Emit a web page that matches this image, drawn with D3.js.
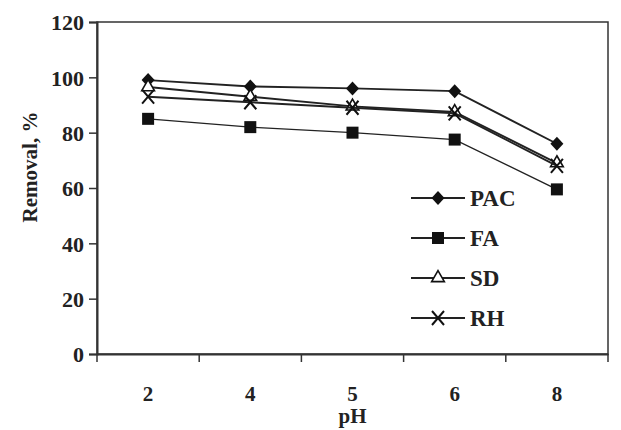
<!DOCTYPE html>
<html>
<head>
<meta charset="utf-8">
<script src="https://cdn.jsdelivr.net/npm/d3@7"></script>
<style>
  body { margin: 0; background: #fff; }
  text { font-family: "Liberation Serif", "DejaVu Serif", serif; font-weight: bold; fill: #222; }
</style>
</head>
<body>
<svg width="621" height="430"></svg>
<script>
// pH categories and removal (%) per adsorbent
var phLabels = ["2", "4", "5", "6", "8"];
var pacValues = [99, 96.7, 96, 95, 76];
var faValues = [85, 82, 80, 77.5, 59.5];
var sdValues = [96.5, 93, 89.5, 87.5, 69];
var rhValues = [93, 91, 89, 87, 68];
var yTicks = [0, 20, 40, 60, 80, 100, 120];

var series = [
    {name: "PAC", values: pacValues, marker: "diamond"},
    {name: "FA", values: faValues, marker: "square"},
    {name: "SD", values: sdValues, marker: "triangle"},
    {name: "RH", values: rhValues, marker: "cross"}
];

var svg = d3.select("svg"),
    plotLeft = 97, plotRight = 608, plotTop = 22, plotBottom = 354;

var x = d3.scaleBand().domain(phLabels).range([plotLeft, plotRight]);
var y = d3.scaleLinear().domain([0, 120]).range([plotBottom, plotTop]);

// plot frame
svg.append("rect")
    .attr("x", plotLeft).attr("y", plotTop)
    .attr("width", plotRight - plotLeft).attr("height", plotBottom - plotTop)
    .attr("fill", "none").attr("stroke", "#333").attr("stroke-width", 1.5);

var yAxis = svg.append("g")
    .attr("transform", "translate(" + plotLeft + ",0)")
    .call(d3.axisLeft(y).tickValues(yTicks).tickSize(8).tickPadding(5));
yAxis.select(".domain").attr("stroke", "#333").attr("stroke-width", 2);
yAxis.selectAll(".tick line").attr("stroke", "#333").attr("stroke-width", 1.5);
yAxis.selectAll("text").style("font-size", "22px").attr("fill", "#222").attr("dy", "0.36em");

var xAxis = svg.append("g")
    .attr("transform", "translate(0," + plotBottom + ")")
    .call(d3.axisBottom(x).tickSize(0).tickPadding(32));
xAxis.select(".domain").attr("stroke", "#333").attr("stroke-width", 2);
xAxis.selectAll("text").style("font-size", "21px").attr("fill", "#222");

// tick marks between the categories
svg.append("g").selectAll("line")
    .data(phLabels.concat(["end"]))
    .enter().append("line")
    .attr("x1", function(d, i) { return plotLeft + i * x.step(); })
    .attr("x2", function(d, i) { return plotLeft + i * x.step(); })
    .attr("y1", plotBottom)
    .attr("y2", plotBottom + 8)
    .attr("stroke", "#333").attr("stroke-width", 1.5);

svg.append("text")
    .attr("transform", "translate(37,167) rotate(-90)")
    .attr("text-anchor", "middle")
    .style("font-size", "21px")
    .text("Removal, %");

svg.append("text")
    .attr("x", x("5") + x.bandwidth() / 2)
    .attr("y", 423)
    .attr("text-anchor", "middle")
    .style("font-size", "21px")
    .text("pH");

function drawMarker(g, type, cx, cy) {
    if (type === "diamond") {
        g.append("path")
            .attr("d", "M" + cx + "," + (cy - 7) + "L" + (cx + 6.5) + "," + cy +
                "L" + cx + "," + (cy + 7) + "L" + (cx - 6.5) + "," + cy + "Z")
            .attr("fill", "#111");
    } else if (type === "square") {
        g.append("rect")
            .attr("x", cx - 6).attr("y", cy - 6)
            .attr("width", 12).attr("height", 12)
            .attr("fill", "#111");
    } else if (type === "triangle") {
        g.append("path")
            .attr("d", d3.symbol().type(d3.symbolTriangle).size(70)())
            .attr("transform", "translate(" + cx + "," + cy + ")")
            .attr("fill", "#fff").attr("stroke", "#111").attr("stroke-width", 1.6);
    } else {
        g.append("path")
            .attr("d", "M" + (cx - 6) + "," + (cy - 7) + "L" + (cx + 6) + "," + (cy + 7) +
                "M" + (cx + 6) + "," + (cy - 7) + "L" + (cx - 6) + "," + (cy + 7))
            .attr("stroke", "#111").attr("stroke-width", 2);
    }
}

var line = d3.line()
    .x(function(d, i) { return x(phLabels[i]) + x.bandwidth() / 2; })
    .y(function(d) { return y(d); });

series.forEach(function(s) {
    var g = svg.append("g");
    g.append("path")
        .attr("d", line(s.values))
        .attr("fill", "none")
        .attr("stroke", "#222")
        .attr("stroke-width", s.name === "FA" ? 1.4 : 1.9);
    s.values.forEach(function(v, i) {
        drawMarker(g, s.marker, x(phLabels[i]) + x.bandwidth() / 2, y(v));
    });
});

// legend
var legend = svg.append("g");
series.forEach(function(s, i) {
    var ly = 198 + i * 40;
    legend.append("line")
        .attr("x1", 411).attr("x2", 465)
        .attr("y1", ly).attr("y2", ly)
        .attr("stroke", "#222").attr("stroke-width", 1.8);
    drawMarker(legend, s.marker, 438, ly);
    legend.append("text")
        .attr("x", 470).attr("y", ly + 8)
        .style("font-size", "23px")
        .text(s.name);
});
</script>
</body>
</html>
